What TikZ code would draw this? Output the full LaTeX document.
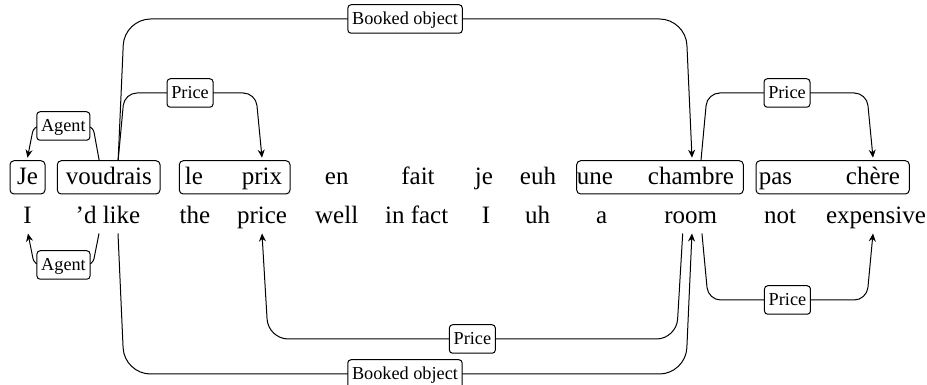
\documentclass[tikz,border=0pt]{standalone}
\usepackage{fontspec}
\setmainfont{Liberation Serif}
\usetikzlibrary{calc,fit,arrows.meta}
% #1 start, #2 end, #3 level coordinate, #4 label, #5 signed slant, #6 corner radius
\newcommand\depedgeX[6]{%
  \draw[dep, rounded corners=#6] (#1) -- ($(#1 |- #3)+(#5,0)$)
    -- node[lab]{#4} ($(#2 |- #3)-(#5,0)$) -- (#2);}
\begin{document}
\begin{tikzpicture}[x=0.4pt,y=-0.4pt,
  fr/.style={anchor=base, inner sep=0pt, font=\fontsize{10}{12}\selectfont},
  en/.style={anchor=base, inner sep=0pt, text depth=3.6pt, font=\fontsize{10}{12}\selectfont},
  grp/.style={draw, rounded corners=1.6pt, inner sep=0pt},
  lab/.style={draw, fill=white, rounded corners=1.3pt, inner xsep=1.7pt, inner ysep=1.1pt,
    text height=0.7em, text depth=0.22em, font=\fontsize{7.3}{8.5}\selectfont},
  dep/.style={line width=0.4pt, -{Stealth[length=3.2pt,width=2.8pt]}}]
\useasboundingbox (0,0) rectangle (927,385);

% French words
\node[fr] (wje) at (27.5,185) {Je};
\node[fr] (wvoud) at (108.8,185) {voudrais};
\node[fr] (wle) at (194,185) {le};
\node[fr] (wprix) at (262,185) {prix};
\node[fr] (wen) at (336.7,185) {en};
\node[fr] (wfait) at (418,185) {fait};
\node[fr] (wjem) at (484,185) {je};
\node[fr] (weuh) at (538,185) {euh};
\node[fr] (wune) at (595,185) {une};
\node[fr] (wchambre) at (691,185) {chambre};
\node[fr] (wpas) at (775.5,185) {pas};
\node[fr] (wchere) at (873,185) {chère};

% English words
\node[en] (wI) at (27.5,224) {I};
\node[en] (wlike) at (108,224) {’d like};
\node[en] (wthe) at (195,224) {the};
\node[en] (wprice) at (262,224) {price};
\node[en] (wwell) at (336.7,224) {well};
\node[en] (winfact) at (416.7,224) {in fact};
\node[en] (wItwo) at (486,224) {I};
\node[en] (wuh) at (537.5,224) {uh};
\node[en] (wa) at (601.7,224) {a};
\node[en] (wroom) at (690.7,224) {room};
\node[en] (wnot) at (780,224) {not};
\node[en] (wexp) at (876,224) {expensive};

% word groups
\node[grp, fit={(10,160.7) (45,194)}] (gje) {};
\node[grp, fit={(57.3,160.7) (160,194)}] (gvoud) {};
\node[grp, fit={(179.3,160.7) (290,194)}] (gprix) {};
\node[grp, fit={(576.7,160.7) (743.3,194)}] (gchambre) {};
\node[grp, fit={(756,160.7) (909.3,194)}] (gpas) {};

% levels
\coordinate (lAone) at (0,126);
\coordinate (lPone) at (0,93);
\coordinate (lBone) at (0,19);
\coordinate (lAtwo) at (0,265);
\coordinate (lPthree) at (0,339);
\coordinate (lBtwo) at (0,374);
\coordinate (lPfour) at (0,300);

% end points above
\coordinate (sAone) at ([xshift=-3.8pt]gvoud.north);
\coordinate (sBone) at ([xshift=3.8pt]gvoud.north);
\coordinate (eAone) at ([yshift=1pt]gje.north);
\coordinate (ePone) at ($(wprix |- gprix.north)+(0,1pt)$);
\coordinate (eBone) at ($(wchambre |- gchambre.north)+(0.4pt,1pt)$);
\coordinate (sPtwo) at ($(wchambre |- gchambre.north)+(4pt,0)$);
\coordinate (ePtwo) at ($(wchere |- gpas.north)+(0,1pt)$);

% end points below
\coordinate (sAtwo) at ([xshift=-3.6pt]wlike.south);
\coordinate (sBtwo) at ([xshift=4pt]wlike.south);
\coordinate (eAtwo) at ([xshift=0.2pt]wI.south);
\coordinate (eBtwo) at ([xshift=0.5pt]wroom.south);
\coordinate (sPthree) at ([xshift=-3.2pt]wroom.south);
\coordinate (ePthree) at (wprice.south);
\coordinate (sPfour) at ([xshift=4.5pt]wroom.south);
\coordinate (ePfour) at ([xshift=-1.2pt]wexp.south);

% edges above
\depedgeX{sAone}{eAone}{lAone}{Agent}{-2.5pt}{2.6pt}
\depedgeX{sBone}{ePone}{lPone}{Price}{2.5pt}{5pt}
\depedgeX{sBone}{eBone}{lBone}{Booked object}{2.5pt}{10.5pt}
\depedgeX{sPtwo}{ePtwo}{lPone}{Price}{2.5pt}{5pt}

% edges below
\depedgeX{sAtwo}{eAtwo}{lAtwo}{Agent}{-2.5pt}{2.6pt}
\depedgeX{sBtwo}{eBtwo}{lBtwo}{Booked object}{2.5pt}{10.5pt}
\depedgeX{sPthree}{ePthree}{lPthree}{Price}{-2.5pt}{8pt}
\depedgeX{sPfour}{ePfour}{lPfour}{Price}{2.5pt}{5pt}
\end{tikzpicture}
\end{document}
